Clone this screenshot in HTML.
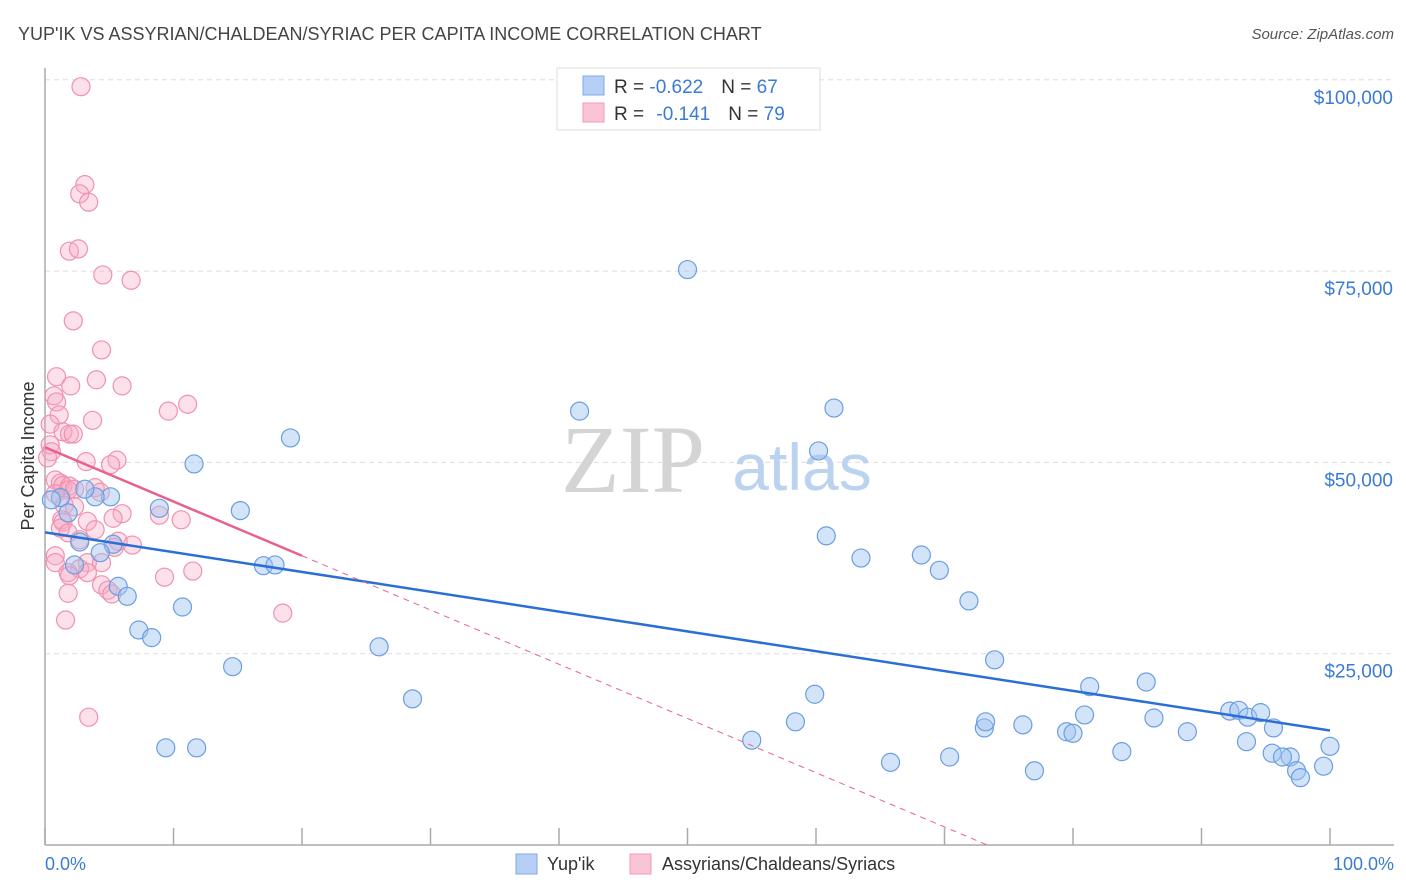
<!DOCTYPE html>
<html><head><meta charset="utf-8"><style>
html,body{margin:0;padding:0;background:#fff;width:1406px;height:892px;overflow:hidden;font-family:"Liberation Sans",sans-serif;}
svg{display:block;}
svg text{font-family:"Liberation Sans",sans-serif;}
</style></head><body>
<svg id="chart" width="1406" height="892" viewBox="0 0 1406 892" xmlns="http://www.w3.org/2000/svg">
<text x="18" y="40" font-size="18" fill="#444">YUP'IK VS ASSYRIAN/CHALDEAN/SYRIAC PER CAPITA INCOME CORRELATION CHART</text>
<text x="1394" y="39" font-size="15" fill="#555" text-anchor="end" font-style="italic">Source: ZipAtlas.com</text>
<g id="grid"></g>
<g>
<text x="633" y="492" font-size="96" fill="#d4d4d4" text-anchor="middle" style="font-family:'Liberation Serif',serif">ZIP</text>
<text x="802" y="490" font-size="66" fill="#bcd3ef" text-anchor="middle">atlas</text>
</g>
<line x1="45" y1="68" x2="45" y2="845" stroke="#aaa" stroke-width="1.5"/>
<line x1="45" y1="845" x2="1394" y2="845" stroke="#aaa" stroke-width="1.5"/>
<g id="xticks"></g>
<g id="ylabels"></g>
<text transform="translate(34,456) rotate(-90)" font-size="18" fill="#333" text-anchor="middle">Per Capita Income</text>
<text x="45" y="870" font-size="18" fill="#3a7bd5">0.0%</text>
<text x="1394" y="870" font-size="18" fill="#3a7bd5" text-anchor="end">100.0%</text>
<clipPath id="clip"><rect x="45" y="68" width="1350" height="777"/></clipPath>
<g id="pink"></g>
<g id="blue"></g>
<g id="trends" clip-path="url(#clip)"></g>
<g>
<rect x="557" y="68" width="263" height="62" fill="#fff" stroke="#ddd"/>
<rect x="583" y="76" width="21" height="19" fill="#b6cff5" stroke="#7ea8e8"/>
<rect x="583" y="103" width="21" height="19" fill="#f9c4d3" stroke="#f29ab4"/>
<text x="614" y="93" font-size="19" fill="#333">R = <tspan fill="#3a7bd5">-0.622</tspan><tspan dx="18">N = </tspan><tspan fill="#3a7bd5">67</tspan></text>
<text x="614" y="120" font-size="19" fill="#333">R = <tspan fill="#3a7bd5" dx="7">-0.141</tspan><tspan dx="18">N = </tspan><tspan fill="#3a7bd5">79</tspan></text>
</g>
<g>
<rect x="516" y="854" width="21" height="20" fill="#b6cff5" stroke="#7ea8e8"/>
<text x="547" y="870" font-size="18" fill="#333">Yup'ik</text>
<rect x="630" y="854" width="21" height="20" fill="#f9c4d3" stroke="#f29ab4"/>
<text x="662" y="870" font-size="18" fill="#333">Assyrians/Chaldeans/Syriacs</text>
</g>
</svg>
<script>
const yTicks=[25000,50000,75000,100000];
const yTickLabels=["$25,000","$50,000","$75,000","$100,000"];
const xTicks=[0,10,20,30,40,50,60,70,80,90,100];
const blueX=[50.0,41.6,61.4,60.2,19.1,11.6,5.1,3.9,3.1,1.2,0.5,1.8,8.9,15.2,60.8,2.7,5.3,4.3,2.3,17.0,17.9,63.5,68.2,69.6,5.7,6.4,10.7,71.9,7.3,8.3,26.0,14.6,73.9,28.6,59.9,81.3,85.7,58.4,55.0,73.1,73.2,76.1,80.9,79.5,80.0,86.3,88.9,83.8,70.4,65.8,77.0,9.4,11.8,92.2,92.9,93.6,94.6,95.6,93.5,95.5,96.9,96.3,97.4,97.7,99.5,100];
const blueY=[75.2,56.7,57.1,51.5,53.2,49.8,45.5,45.5,46.5,45.4,45.1,43.4,44.0,43.7,40.4,39.6,39.3,38.2,36.6,36.5,36.6,37.5,37.9,35.9,33.8,32.5,31.1,31.9,28.1,27.1,25.9,23.3,24.2,19.1,19.7,20.7,21.3,16.1,13.7,15.3,16.1,15.7,17.0,14.8,14.6,16.6,14.8,12.2,11.5,10.8,9.7,12.7,12.7,17.5,17.6,16.7,17.3,15.3,13.5,12.0,11.5,11.5,9.7,8.8,10.3,12.9];
const pinkX=[2.8,3.1,2.7,3.4,1.9,2.6,4.5,6.7,2.2,4.4,0.9,2.0,4.0,6.0,0.7,0.9,9.6,11.1,1.1,3.7,0.4,1.4,1.9,2.2,0.4,0.5,0.2,3.2,5.6,5.1,0.8,1.2,1.4,1.9,1.8,3.9,2.3,0.8,4.3,1.5,2.3,8.9,6.0,1.3,1.4,5.3,3.3,1.2,10.6,1.8,3.9,2.7,5.7,6.8,5.4,0.8,0.8,3.3,4.4,2.7,1.8,1.9,3.3,11.5,9.3,4.4,4.9,5.2,1.8,18.5,1.6,3.4];
const pinkY=[99.1,86.3,85.1,84.0,77.6,77.9,74.5,73.8,68.5,64.7,61.2,60.0,60.8,60.0,58.7,57.9,56.7,57.6,56.2,55.5,55.0,54.0,53.7,53.7,52.3,51.4,50.6,50.1,50.3,49.7,47.7,47.3,47.0,46.9,46.4,46.7,46.5,45.9,46.1,44.4,44.2,43.1,43.3,42.5,42.2,42.7,42.3,41.4,42.5,40.8,41.2,39.9,39.7,39.2,38.9,37.8,36.9,36.9,36.9,36.1,35.6,35.2,35.6,35.8,35.0,34.0,33.3,32.8,32.9,30.3,29.4,16.7];
const NS="http://www.w3.org/2000/svg";
const xs=p=>45+p*12.85;
const ys=v=>845-v/25000*191.3;
function mk(tag,attrs,parent){const e=document.createElementNS(NS,tag);for(const k in attrs)e.setAttribute(k,attrs[k]);parent.appendChild(e);return e;}
const grid=document.getElementById('grid'),yl=document.getElementById('ylabels'),xt=document.getElementById('xticks');
yTicks.forEach((t,i)=>{
 const l=mk('line',{x1:45,x2:1394,y1:ys(t),y2:ys(t),stroke:'#ddd','stroke-dasharray':'5,4'},grid);
 
 
 const tx=mk('text',{x:1393,y:ys(t)+24,'font-size':19,fill:'#3a7bd5','text-anchor':'end'},yl);
 tx.textContent=yTickLabels[i];
 
 
});
xTicks.forEach(t=>{
 const l=mk('line',{x1:xs(t),x2:xs(t),y1:828,y2:845,stroke:'#aaa','stroke-width':1.5},xt);
 
 
});
function pts(X,Y,g,fill,stroke,name){
 X.forEach((x,i)=>{
  const c=mk('circle',{cx:xs(x),cy:ys(Y[i]*1000),r:9,fill:fill,stroke:stroke,'stroke-width':1.2},g);
  
  
 });
}
pts(pinkX,pinkY,document.getElementById('pink'),'rgba(246,170,196,0.35)','#f091ad','assyrian-point');
pts(blueX,blueY,document.getElementById('blue'),'rgba(160,195,240,0.45)','#6b9de2','yupik-point');
function fit(X,Y){const n=X.length;let mx=0,my=0;X.forEach((x,i)=>{mx+=x;my+=Y[i];});mx/=n;my/=n;let sxy=0,sxx=0;X.forEach((x,i)=>{sxy+=(x-mx)*(Y[i]-my);sxx+=(x-mx)*(x-mx);});const b=sxy/sxx;return [my-b*mx,b];}
const tr=document.getElementById('trends');
const [ba,bb]=fit(blueX,blueY);
let l=mk('line',{x1:xs(0),y1:ys(ba*1000),x2:xs(100),y2:ys((ba+bb*100)*1000),stroke:'#2a6fd6','stroke-width':2.5},tr);


const [pa,pb]=fit(pinkX,pinkY);
const pmax=Math.max(...pinkX)+1.5;
l=mk('line',{x1:xs(0),y1:ys(pa*1000),x2:xs(pmax),y2:ys((pa+pb*pmax)*1000),stroke:'#e8618c','stroke-width':2.5},tr);


l=mk('line',{x1:xs(pmax),y1:ys((pa+pb*pmax)*1000),x2:xs(100),y2:ys((pa+pb*100)*1000),stroke:'#e8618c','stroke-width':1,'stroke-dasharray':'6,5'},tr);


</script>
</body></html>
